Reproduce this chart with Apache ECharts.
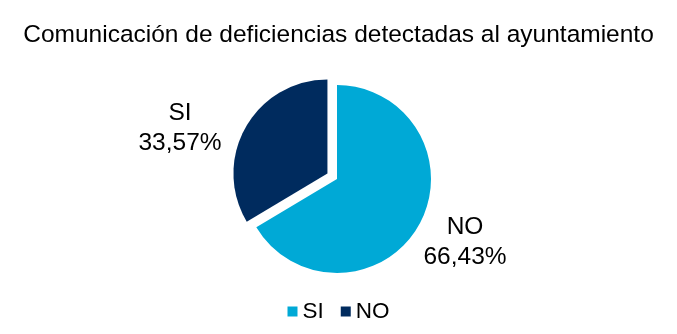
<!DOCTYPE html>
<html><head><meta charset="utf-8">
<script src="https://cdn.jsdelivr.net/npm/echarts@6/dist/echarts.min.js"></script>
<style>html,body{margin:0;padding:0;background:#fff}#c{width:677px;height:334px}</style>
</head><body><div id="c"></div>
<script>
const titleText = 'Comunicación de deficiencias detectadas al ayuntamiento';
const categories = ['NO', 'SI'];
const values = [66.43, 33.57];
const sliceColors = ['#00A9D6', '#002B5E'];
const explodedCategory = 'SI';
const legendNames = ['SI', 'NO'];
const legendColors = ['#00A9D6', '#002B5E'];
const labelPos = [[465, 242], [180, 128]];

const font = 'Liberation Sans, Arial, Helvetica, sans-serif';
const baseCenter = [337, 179];
const explodeDist = 11;

// mid-angle of the exploded slice (clockwise from 12 o'clock)
const total = values.reduce((a, b) => a + b, 0);
let acc = 0, midDeg = 0;
categories.forEach((c, i) => {
  if (c === explodedCategory) midDeg = (acc + values[i] / 2) / total * 360;
  acc += values[i];
});
const rad = midDeg * Math.PI / 180;
const explodedCenter = [baseCenter[0] + explodeDist * Math.sin(rad), baseCenter[1] - explodeDist * Math.cos(rad)];

const labelCfg = {
  show: true, position: 'inside',
  formatter: p => p.name + '\n' + p.value.toFixed(2).replace('.', ',') + '%',
  fontFamily: font, fontSize: 24.5, color: '#000', lineHeight: 30, align: 'center'
};

function seriesFor(showExploded, center) {
  return {
    type: 'pie',
    center: center,
    radius: 94,
    startAngle: 90,
    clockwise: true,
    silent: true,
    data: categories.map((c, i) => {
      const visible = (c === explodedCategory) === showExploded;
      return visible
        ? {name: c, value: values[i], itemStyle: {color: sliceColors[i]}}
        : {name: '_' + c, value: values[i], itemStyle: {color: 'rgba(0,0,0,0)'}, label: {show: false}};
    }),
    label: labelCfg,
    labelLine: {show: false},
    labelLayout: p => ({x: labelPos[p.dataIndex][0], y: labelPos[p.dataIndex][1], align: 'center', verticalAlign: 'middle'}),
    emphasis: {disabled: true}
  };
}

const chart = echarts.init(document.getElementById('c'), null, {renderer: 'canvas'});
chart.setOption({
  animation: false,
  title: {
    text: titleText, left: 'center', top: 18,
    textStyle: {fontFamily: font, fontSize: 24.5, fontWeight: 'normal', color: '#000'}
  },
  legend: {
    bottom: 6, left: 'center', itemWidth: 10, itemHeight: 10, itemGap: 17,
    icon: 'rect', selectedMode: false,
    textStyle: {fontFamily: font, fontSize: 22.5, color: '#000', padding: [3, 0, 0, 0]},
    data: legendNames.map((n, i) => ({name: n, itemStyle: {color: legendColors[i]}}))
  },
  series: [seriesFor(false, baseCenter), seriesFor(true, explodedCenter)]
});
</script></body></html>
